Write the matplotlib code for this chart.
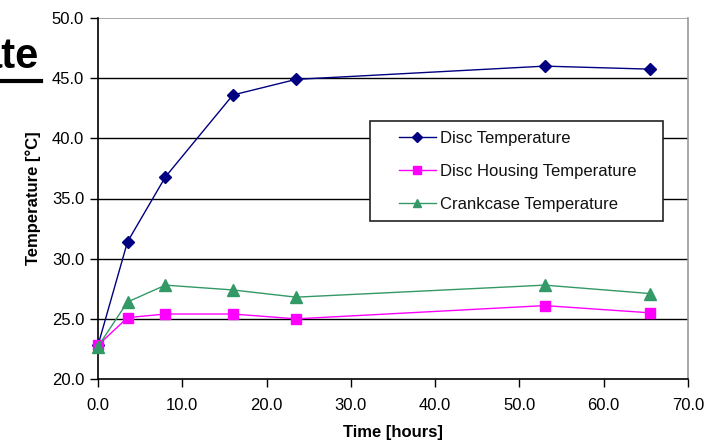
import matplotlib
matplotlib.use("Agg")
import matplotlib.pyplot as plt
from matplotlib.lines import Line2D
from matplotlib.patches import Rectangle

plt.rcParams['font.family'] = ['Liberation Sans', 'DejaVu Sans']

time_h = [0.0, 3.5, 8.0, 16.0, 23.5, 53.0, 65.5]
disc_temp = [22.8, 31.4, 36.8, 43.6, 44.9, 46.0, 45.75]
housing_temp = [22.8, 25.1, 25.4, 25.4, 25.0, 26.1, 25.5]
crankcase_temp = [22.7, 26.4, 27.8, 27.4, 26.8, 27.8, 27.1]
series_names = ["Disc Temperature", "Disc Housing Temperature", "Crankcase Temperature"]
y_ticks = [20, 25, 30, 35, 40, 45, 50]
x_ticks = [0, 10, 20, 30, 40, 50, 60, 70]

W, H = 722, 447
fig = plt.figure(figsize=(W/100, H/100), dpi=100)
ax = fig.add_axes([98/W, 1-379/H, 590/W, 361/H])

ax.set_xlim(0, 70)
ax.set_ylim(20, 50)
ax.set_yticks(y_ticks)
ax.set_xticks(x_ticks)
ax.set_yticklabels([f"{v:.1f}" for v in y_ticks])
ax.set_xticklabels([f"{v:.1f}" for v in x_ticks])
ax.tick_params(axis='both', direction='out', length=6, width=1, labelsize=12, colors='black')
ax.tick_params(axis='x', pad=8)
ax.tick_params(axis='y', pad=4)

for y in y_ticks[1:-1]:
    ax.axhline(y, color='black', lw=1, zorder=1)
ax.axhline(50, color='#999999', lw=1.2, zorder=1)
ax.spines['top'].set_visible(False)
ax.spines['right'].set_color('#999999')
ax.spines['right'].set_linewidth(1.2)
ax.spines['left'].set_linewidth(1.2)
ax.spines['bottom'].set_linewidth(1.2)

ax.plot(time_h, disc_temp, color='#000080', lw=1, marker='D', ms=6, mfc='#000080', mec='#000080', clip_on=False, zorder=3, label=series_names[0])
ax.plot(time_h, housing_temp, color='#ff00ff', lw=1, marker='s', ms=7, mfc='#ff00ff', mec='#ff00ff', clip_on=False, zorder=3, label=series_names[1])
ax.plot(time_h, crankcase_temp, color='#339966', lw=1, marker='^', ms=8, mfc='#339966', mec='#339966', clip_on=False, zorder=3, label=series_names[2])

ax.set_ylabel("Temperature [°C]", fontsize=12, fontweight='bold', labelpad=8)
ax.set_xlabel("Time [hours]", fontsize=12, fontweight='bold', labelpad=8)

# legend box (drawn manually for Excel-like padding)
box = Rectangle((370/W, 1-221/H), (663-370)/W, (221-121)/H, transform=fig.transFigure,
                facecolor='white', edgecolor='#222222', lw=1.2, zorder=4, clip_on=False)
ax.add_patch(box)
leg = ax.legend(loc='upper left', bbox_to_anchor=(399/W, 1-131/H), bbox_transform=fig.transFigure,
                fontsize=12, frameon=False, labelspacing=1.08, handlelength=2.2,
                handletextpad=0.25, borderpad=0, borderaxespad=0, markerscale=0.8)
for t in leg.get_texts():
    t.set_color('#111111')
leg.set_zorder(5)

# partial slide title text in top-left corner
fig.text(39/W, 1-68/H, "ate", fontsize=30, fontweight='bold', ha='right', va='baseline')
fig.add_artist(Line2D([0, 41/W], [1-81/H, 1-81/H], color='black', lw=3))

fig.savefig("out.png", dpi=100)
